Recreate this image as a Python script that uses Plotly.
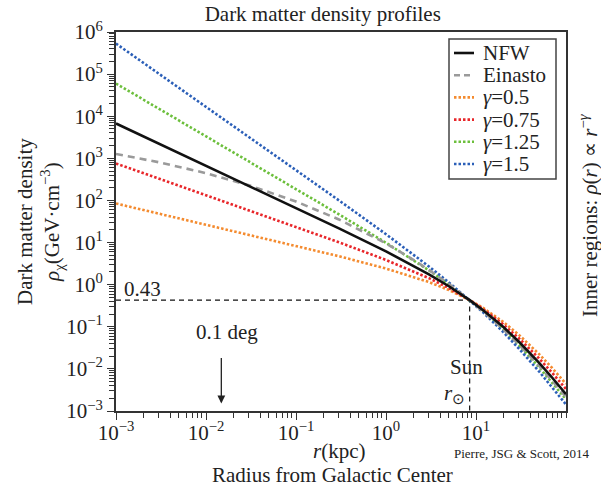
import plotly.graph_objects as go
import math

# ---------------- data ----------------
r_kpc = [0.001, 0.003, 0.01, 0.03, 0.1, 0.3, 1, 2, 3, 5, 8.5, 12, 20, 30, 50, 70, 100]

rho_nfw = [6700, 2234, 669.6, 222.9, 66.47, 21.79, 6.177, 2.855, 1.765, 0.918, 0.43,
           0.2481, 0.0997, 0.04414, 0.0141, 0.006244, 0.002511]
rho_einasto = [1265, 807.7, 444.4, 228.8, 94.48, 35.41, 9.567, 3.951, 2.240, 1.034, 0.43,
               0.2327, 0.08743, 0.03778, 0.01204, 0.005358, 0.002157]
rho_g050 = [84.6, 48.8, 26.73, 15.40, 8.372, 4.735, 2.416, 1.548, 1.151, 0.7456, 0.43,
            0.2803, 0.1314, 0.06433, 0.02266, 0.01053, 0.004408]
rho_g075 = [752.9, 330.3, 133.8, 58.58, 23.59, 10.16, 3.863, 2.102, 1.425, 0.8276, 0.43,
            0.2637, 0.1145, 0.05327, 0.01788, 0.008111, 0.003326]
rho_g125 = [59660, 15110, 3352, 847.6, 187.3, 46.75, 9.878, 3.877, 2.186, 1.019, 0.43,
            0.2336, 0.08684, 0.03656, 0.01112, 0.004806, 0.001895]
rho_g150 = [531000, 102200, 16790, 3226, 527.9, 100.3, 15.79, 5.265, 2.708, 1.131, 0.43,
            0.2199, 0.07562, 0.03029, 0.008773, 0.0037, 0.00143]

R_SUN = 8.5          # kpc
RHO_SUN = 0.43       # GeV cm^-3
ARROW_R = 0.0148     # kpc, 0.1 deg at the Sun's distance
X_MIN, X_MAX = 1e-3, 1e2
Y_MIN, Y_MAX = 1e-3, 1e6

x_tickvals = [1e-3, 1e-2, 1e-1, 1e0, 1e1]
x_ticktext = ["10<sup>−3</sup>", "10<sup>−2</sup>", "10<sup>−1</sup>", "10<sup>0</sup>", "10<sup>1</sup>"]
y_tickvals = [1e-3, 1e-2, 1e-1, 1e0, 1e1, 1e2, 1e3, 1e4, 1e5, 1e6]
y_ticktext = ["10<sup>−3</sup>", "10<sup>−2</sup>", "10<sup>−1</sup>", "10<sup>0</sup>", "10<sup>1</sup>",
              "10<sup>2</sup>", "10<sup>3</sup>", "10<sup>4</sup>", "10<sup>5</sup>", "10<sup>6</sup>"]

series_names = ["NFW", "Einasto", "<i>γ</i>=0.5", "<i>γ</i>=0.75", "<i>γ</i>=1.25", "<i>γ</i>=1.5"]
series_values = [rho_nfw, rho_einasto, rho_g050, rho_g075, rho_g125, rho_g150]
series_colors = ["#111111", "#9a9a9a", "#f48b2f", "#e8262a", "#6cbf3c", "#2b5fb8"]
series_dash = ["solid", "7px,5px", "2.5px,2px", "2.5px,2px", "2.5px,2px", "2.5px,2px"]
LINE_W = 2.6

SERIF = "Liberation Serif"
TXT = "#222222"

# ---------------- layout geometry ----------------
W, H = 601, 489
ML, MR, MT, MB = 116, 35, 32, 78
PW, PH = W - ML - MR, H - MT - MB


def px(xpix):
    return (xpix - ML) / PW


def py(ypix):
    return (H - MB - ypix) / PH


fig = go.Figure()

# reference dashed lines (local density / solar radius)
fig.add_trace(go.Scatter(x=[X_MIN, R_SUN, R_SUN], y=[RHO_SUN, RHO_SUN, Y_MIN], mode="lines",
                         line=dict(color="#111111", width=1.2, dash="5px,4px"),
                         showlegend=False, hoverinfo="skip"))

# dotted gamma curves first, then Einasto, NFW on top
for i in [2, 3, 4, 5, 1, 0]:
    fig.add_trace(go.Scatter(x=r_kpc, y=series_values[i], mode="lines", name=series_names[i],
                             line=dict(color=series_colors[i], width=LINE_W, dash=series_dash[i]),
                             showlegend=False))

axis_common = dict(type="log", showgrid=False, zeroline=False, showline=True,
                   linecolor="#333333", linewidth=1.8, mirror=True,
                   ticks="outside", ticklen=7, tickwidth=1.2, tickcolor="#333333",
                   tickfont=dict(family=SERIF, size=21, color=TXT))

fig.update_xaxes(range=[math.log10(X_MIN), math.log10(X_MAX)],
                 tickvals=x_tickvals, ticktext=x_ticktext, ticklabelstandoff=-5,
                 minor=dict(ticks="outside", ticklen=5, tickwidth=1.1, tickcolor="#333333", dtick="D1"),
                 **axis_common)
fig.update_yaxes(range=[math.log10(Y_MIN), math.log10(Y_MAX)],
                 tickvals=y_tickvals, ticktext=y_ticktext,
                 minor=dict(ticks="outside", ticklen=5, tickwidth=1.1, tickcolor="#333333", dtick="D1"),
                 **axis_common)

annots = []
shapes = []


def txt(text, x, y, size=21, xanchor="center", yanchor="middle", angle=0, xref="paper", yref="paper"):
    annots.append(dict(x=x, y=y, xref=xref, yref=yref, text=text, showarrow=False,
                       xanchor=xanchor, yanchor=yanchor, textangle=angle,
                       font=dict(family=SERIF, size=size, color=TXT)))


# in-plot labels
txt(f"{RHO_SUN}", px(122), py(289), xanchor="left")
txt("0.1 deg", px(227), py(332))
annots.append(dict(x=math.log10(ARROW_R), y=-2.82, xref="x", yref="y", text="",
                   showarrow=True, ax=0, ay=-47, arrowhead=2, arrowsize=1.2,
                   arrowwidth=1.3, arrowcolor=TXT))
txt("Sun", px(466), py(367))
txt("<i>r</i><sub>⊙</sub>", px(467), py(394), xanchor="right")

# axis titles and side texts
txt("Dark matter density<br><i>ρ</i><sub>χ</sub>(GeV·cm<sup>−3</sup>)", px(40), py(222), angle=-90)
txt("<i>r</i>(kpc)", px(339), py(451))
txt("Radius from Galactic Center", px(332), py(475))
txt("Pierre, JSG & Scott, 2014", px(592), py(453), size=13, xanchor="right")
txt("Inner regions: <i>ρ</i>(<i>r</i>) ∝ <i>r</i><sup>−<i>γ</i></sup>", px(588), py(215), angle=-90)

# legend (box, samples, labels)
LEG_L, LEG_R, LEG_T, LEG_B = 449, 556, 39, 179
shapes.append(dict(type="rect", xref="paper", yref="paper",
                   x0=px(LEG_L), x1=px(LEG_R), y0=py(LEG_B), y1=py(LEG_T),
                   line=dict(color="#444444", width=1.5), fillcolor="white", layer="above"))
for k in range(len(series_names)):
    yk = 53 + k * 22.2
    shapes.append(dict(type="line", xref="paper", yref="paper",
                       x0=px(454), x1=px(474), y0=py(yk), y1=py(yk),
                       line=dict(color=series_colors[k], width=LINE_W,
                                 dash=series_dash[k] if k != 1 else "6px,4px"),
                       layer="above"))
    txt(series_names[k], px(481), py(yk), xanchor="left")

fig.update_layout(
    width=W, height=H,
    margin=dict(l=ML, r=MR, t=MT, b=MB),
    paper_bgcolor="white", plot_bgcolor="white",
    title=dict(text="Dark matter density profiles", x=0.537, xanchor="center",
               y=0.988, yanchor="top", font=dict(family=SERIF, size=21, color=TXT)),
    annotations=annots,
    shapes=shapes,
    showlegend=False,
)

fig.write_html("out.html")
